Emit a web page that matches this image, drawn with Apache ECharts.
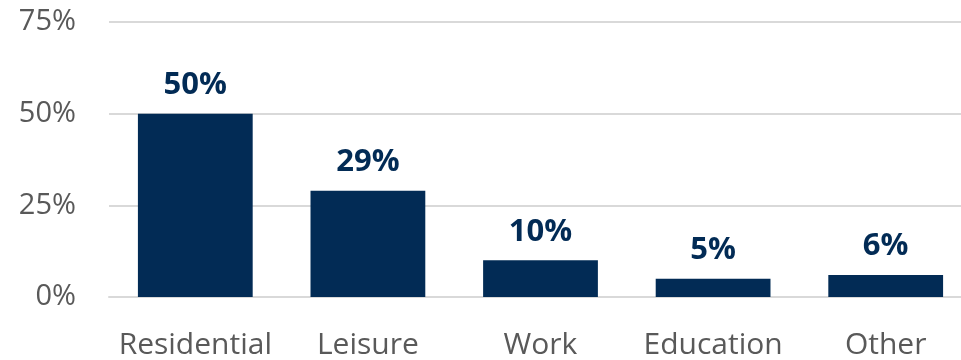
<!DOCTYPE html>
<html>
<head>
<meta charset="utf-8">
<script src="https://cdn.jsdelivr.net/npm/echarts@6/dist/echarts.min.js"></script>
<style>
  html, body { margin: 0; padding: 0; background: #ffffff; overflow: hidden; }
  /* plot area runs slightly past the right edge of the window */
  #chart { width: 972px; height: 360px; }
</style>
</head>
<body>
<div id="chart"></div>
<script>
// Trip purpose shares
const categories = ['Residential', 'Leisure', 'Work', 'Education', 'Other'];
const shares = [50, 29, 10, 5, 6];
const yTicks = [0, 25, 50, 75];

const navy = '#022b55';
const grey = '#595959';
const font = '"Open Sans", "Noto Sans", sans-serif';

const chart = echarts.init(document.getElementById('chart'), null, { renderer: 'canvas' });
chart.setOption({
  animation: false,
  grid: { left: 109, right: 0, top: 22, bottom: 63, containLabel: false },
  xAxis: {
    type: 'category',
    data: categories,
    axisLine: { show: true, lineStyle: { color: '#d9d9d9', width: 2 } },
    axisTick: { show: false },
    axisLabel: { color: grey, fontSize: 30, fontFamily: font, margin: 33, interval: 0 }
  },
  yAxis: {
    type: 'value',
    min: yTicks[0],
    max: yTicks[yTicks.length - 1],
    interval: 25,
    axisLine: { show: false },
    axisTick: { show: false },
    splitLine: { lineStyle: { color: '#d9d9d9', width: 2 } },
    axisLabel: {
      color: grey, fontSize: 29, fontFamily: font, margin: 33,
      formatter: v => v + '%'
    }
  },
  series: [{
    type: 'bar',
    data: shares,
    barCategoryGap: '33.5%',
    itemStyle: { color: navy },
    label: {
      show: true,
      position: 'top',
      distance: 13,
      color: navy,
      fontSize: 31,
      fontWeight: 'bold',
      fontFamily: font,
      formatter: p => p.value + '%'
    }
  }]
});
</script>
</body>
</html>
